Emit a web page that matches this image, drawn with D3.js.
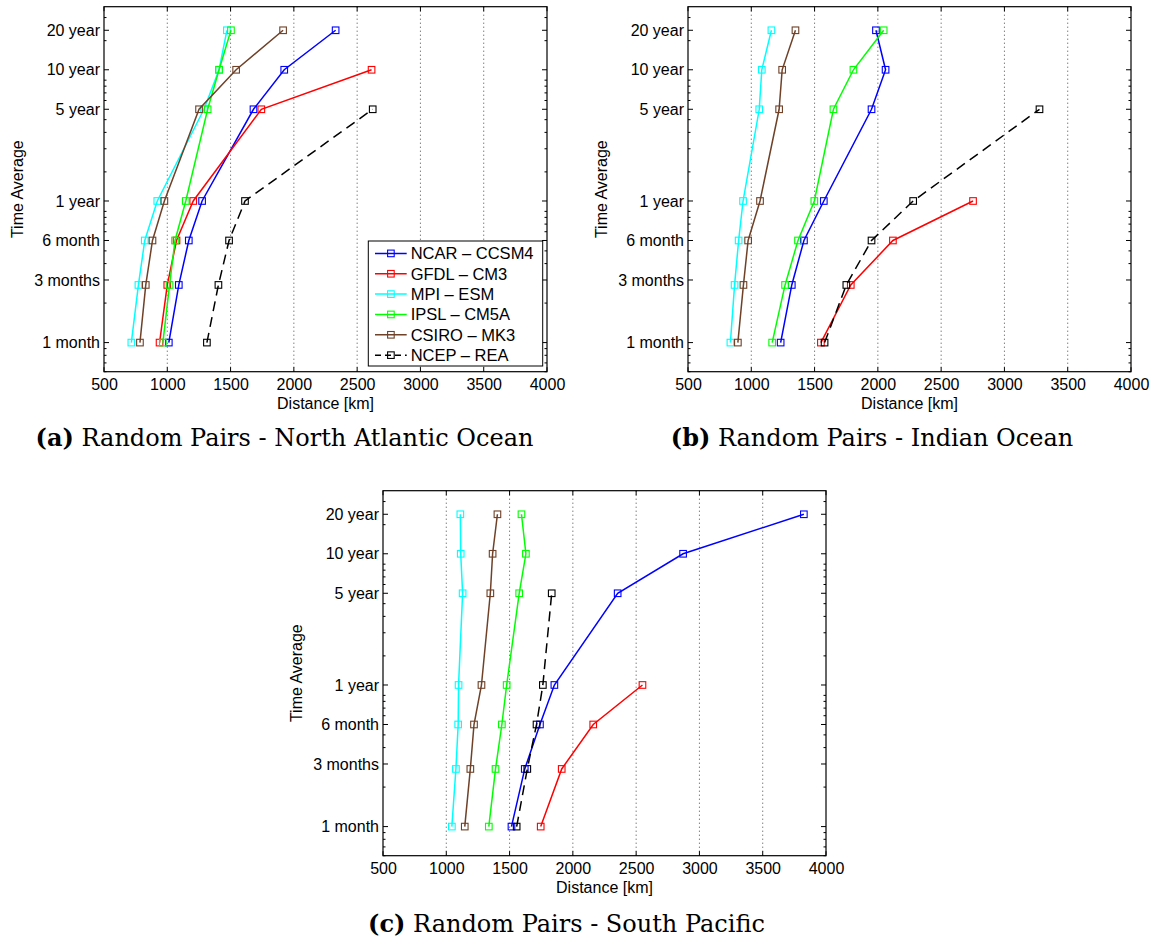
<!DOCTYPE html>
<html>
<head>
<meta charset="utf-8">
<script src="https://cdn.jsdelivr.net/npm/d3@7"></script>
<style>
  body { margin: 0; background: #fff; }
  svg { display: block; font-family: 'Liberation Sans', Arial, sans-serif; }
</style>
</head>
<body>
<svg id="fig" width="1159" height="941"></svg>
<script>
const models = ['NCAR – CCSM4', 'GFDL – CM3', 'MPI – ESM', 'IPSL – CM5A', 'CSIRO – MK3', 'NCEP – REA'];
const modelColors = ['#0000ff', '#ff0000', '#00ffff', '#00ff00', '#6f4128', '#000000'];

// time axis, in months
const timeTicks = [1, 3, 6, 12, 60, 120, 240];
const timeLabels = ['1 month', '3 months', '6 month', '1 year', '5 year', '10 year', '20 year'];
const timePoints = [1, 2.75, 6, 12, 60, 120, 240];
const distTicks = [500, 1000, 1500, 2000, 2500, 3000, 3500, 4000];

// (a) North Atlantic, km
const atlNCAR = [1012, 1091, 1170, 1275, 1681, 1924, 2330];
const atlGFDL = [939, 1000, 1073, 1205, 1743, 2614, null];
const atlMPI = [716, 772, 822, 921, 1290, 1409, 1471];
const atlIPSL = [965, 1018, 1061, 1146, 1319, 1409, 1503];
const atlCSIRO = [784, 830, 883, 977, 1251, 1544, 1915];
const atlNCEP = [1313, 1404, 1488, 1614, 2623, null, null];

// (b) Indian Ocean
const indNCAR = [1232, 1320, 1416, 1573, 1950, 2061, 1985];
const indGFDL = [1550, 1786, 2119, 2752, null, null, null];
const indMPI = [835, 868, 900, 935, 1063, 1083, 1159];
const indIPSL = [1165, 1267, 1369, 1498, 1649, 1807, 2046];
const indCSIRO = [894, 938, 975, 1069, 1220, 1244, 1349];
const indNCEP = [1579, 1751, 1950, 2279, 3277, null, null];

// (c) South Pacific
const pacNCAR = [1515, 1620, 1740, 1854, 2354, 2871, 3825];
const pacGFDL = [1746, 1912, 2161, 2550, null, null, null];
const pacMPI = [1044, 1076, 1094, 1097, 1129, 1114, 1111];
const pacIPSL = [1336, 1389, 1439, 1477, 1576, 1629, 1594];
const pacCSIRO = [1146, 1190, 1219, 1278, 1348, 1366, 1404];
const pacNCEP = [1556, 1640, 1713, 1763, 1833, null, null];

const svg = d3.select('#fig');
svg.append('rect').attr('width', 1159).attr('height', 941).attr('fill', '#fff');

const W = 443, H = 365;
const FONT = "'Liberation Sans', Arial, sans-serif";

const panels = [
    { left: 104, top: 6.7, series: [atlNCAR, atlGFDL, atlMPI, atlIPSL, atlCSIRO, atlNCEP],
      letter: '(a)', title: ' Random Pairs - North Atlantic Ocean', capX: 284.5, capY: 446, legend: true },
    { left: 688, top: 6.7, series: [indNCAR, indGFDL, indMPI, indIPSL, indCSIRO, indNCEP],
      letter: '(b)', title: ' Random Pairs - Indian Ocean', capX: 872, capY: 446, legend: false },
    { left: 383, top: 490.7, series: [pacNCAR, pacGFDL, pacMPI, pacIPSL, pacCSIRO, pacNCEP],
      letter: '(c)', title: ' Random Pairs - South Pacific', capX: 566.5, capY: 932, legend: false }
];

function marker(sel, color) {
    sel.append('rect')
        .attr('x', -3.3).attr('y', -3.3)
        .attr('width', 6.6).attr('height', 6.6)
        .attr('fill', 'none')
        .attr('stroke', color)
        .attr('stroke-width', 1.1);
}

function drawPanel(p) {
    const x = d3.scaleLinear().domain([500, 4000]).range([0, W]);
    const y = d3.scaleLog().domain([0.6, 363]).range([H, 0]);
    const g = svg.append('g').attr('transform', `translate(${p.left},${p.top})`);

    // dotted grid
    g.append('g')
        .selectAll('line')
        .data(distTicks.slice(1, -1))
        .join('line')
        .attr('x1', d => x(d)).attr('x2', d => x(d))
        .attr('y1', 0).attr('y2', H)
        .attr('stroke', '#333')
        .attr('stroke-width', 0.9)
        .attr('stroke-dasharray', '1,3');

    // inward ticks, all four sides
    const minor = y.ticks().filter(t => !timeTicks.includes(t));
    const tk = g.append('g').attr('stroke', '#000').attr('stroke-width', 1);
    timeTicks.forEach(t => {
        tk.append('line').attr('x1', 0).attr('x2', 5).attr('y1', y(t)).attr('y2', y(t));
        tk.append('line').attr('x1', W).attr('x2', W - 5).attr('y1', y(t)).attr('y2', y(t));
    });
    minor.forEach(t => {
        tk.append('line').attr('x1', 0).attr('x2', 2.5).attr('y1', y(t)).attr('y2', y(t));
        tk.append('line').attr('x1', W).attr('x2', W - 2.5).attr('y1', y(t)).attr('y2', y(t));
    });
    distTicks.forEach(d => {
        tk.append('line').attr('x1', x(d)).attr('x2', x(d)).attr('y1', 0).attr('y2', 4.5);
        tk.append('line').attr('x1', x(d)).attr('x2', x(d)).attr('y1', H).attr('y2', H - 4.5);
    });

    // tick labels
    g.append('g')
        .attr('transform', `translate(0,${H})`)
        .call(d3.axisBottom(x).tickValues(distTicks).tickFormat(d3.format('d')).tickSize(0).tickPadding(6.5))
        .call(a => a.select('.domain').remove())
        .attr('font-size', 16).attr('font-family', FONT)
        .selectAll('text').attr('fill', '#000');

    g.append('g')
        .call(d3.axisLeft(y).tickValues(timeTicks).tickFormat((d, i) => timeLabels[i]).tickSize(0).tickPadding(4))
        .call(a => a.select('.domain').remove())
        .attr('font-size', 16).attr('font-family', FONT)
        .selectAll('text').attr('fill', '#000');

    // series
    const line = d3.line()
        .defined(d => d[1] != null)
        .x(d => x(d[1]))
        .y(d => y(d[0]));

    p.series.forEach((vals, i) => {
        const pts = timePoints.map((t, j) => [t, vals[j]]);
        g.append('path')
            .datum(pts)
            .attr('d', line)
            .attr('fill', 'none')
            .attr('stroke', modelColors[i])
            .attr('stroke-width', 1.5)
            .attr('stroke-dasharray', i === 5 ? '10,6' : null);
        g.append('g')
            .selectAll('g')
            .data(pts.filter(d => d[1] != null))
            .join('g')
            .attr('transform', d => `translate(${x(d[1])},${y(d[0])})`)
            .each(function () { marker(d3.select(this), modelColors[i]); });
    });

    // axes box
    g.append('rect')
        .attr('width', W).attr('height', H)
        .attr('fill', 'none')
        .attr('stroke', '#000')
        .attr('stroke-width', 1.2);

    // axis titles
    g.append('text')
        .attr('transform', `translate(-87,${H / 2}) rotate(-90)`)
        .attr('text-anchor', 'middle')
        .attr('dy', '0.35em')
        .attr('font-size', 16)
        .text('Time Average');

    g.append('text')
        .attr('x', W / 2).attr('y', H + 37)
        .attr('text-anchor', 'middle')
        .attr('font-size', 16)
        .text('Distance [km]');

    // caption
    const cap = svg.append('text')
        .attr('x', p.capX).attr('y', p.capY)
        .attr('text-anchor', 'middle')
        .attr('font-family', "'DejaVu Serif', serif")
        .attr('font-size', 24);
    cap.append('tspan').attr('font-weight', 'bold').text(p.letter);
    cap.append('tspan').text(p.title);

    if (p.legend) {
        const lw = 174.4, lh = 125;
        const lg = g.append('g').attr('transform', `translate(${W - 4.3 - lw},${H - 5.7 - lh})`);
        lg.append('rect')
            .attr('width', lw).attr('height', lh)
            .attr('fill', '#fff')
            .attr('stroke', '#000')
            .attr('stroke-width', 1);
        models.forEach((m, i) => {
            const ry = 12.4 + i * 20.35;
            lg.append('line')
                .attr('x1', 6.7).attr('x2', 38.4)
                .attr('y1', ry).attr('y2', ry)
                .attr('stroke', modelColors[i])
                .attr('stroke-width', 1.5)
                .attr('stroke-dasharray', i === 5 ? '6,4' : null);
            const mk = lg.append('g').attr('transform', `translate(22.6,${ry})`);
            marker(mk, modelColors[i]);
            lg.append('text')
                .attr('x', 42.4).attr('y', ry)
                .attr('dy', '0.36em')
                .attr('font-size', 16.5)
                .text(m);
        });
    }
}

panels.forEach(drawPanel);
</script>
</body>
</html>
